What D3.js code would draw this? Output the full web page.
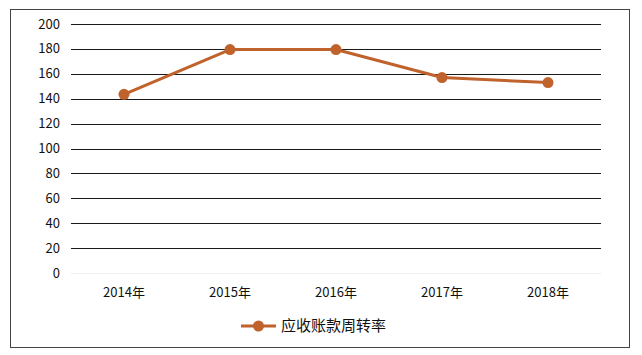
<!DOCTYPE html>
<html>
<head>
<meta charset="utf-8">
<script src="https://cdn.jsdelivr.net/npm/d3@7"></script>
<style>
  body { margin: 0; background: #fff; }
  text { font-family: "Noto Sans CJK SC", "Liberation Sans", sans-serif; fill: #111; }
</style>
</head>
<body>
<svg width="642" height="355"></svg>
<script>
const years = ["2014年", "2015年", "2016年", "2017年", "2018年"];
const values = [143.5, 179.5, 179.5, 157, 153];
const yTicks = [0, 20, 40, 60, 80, 100, 120, 140, 160, 180, 200];
const seriesName = "应收账款周转率";

const color = "#C0622B";
const svg = d3.select("svg");

// outer frame
svg.append("rect")
  .attr("x", 10.5).attr("y", 9.5)
  .attr("width", 619).attr("height", 338)
  .attr("fill", "none").attr("stroke", "#444").attr("stroke-width", 1);

const plotL = 71, plotR = 601, plotT = 24, plotB = 273;

const x = d3.scaleBand().domain(years).range([plotL, plotR]);
const y = d3.scaleLinear().domain([0, 200]).range([plotB, plotT]);

// gridlines
svg.selectAll(".grid")
  .data(yTicks)
  .enter().append("line")
  .attr("x1", plotL).attr("x2", plotR)
  .attr("y1", d => Math.round(y(d)) + 0.5)
  .attr("y2", d => Math.round(y(d)) + 0.5)
  .attr("stroke", d => d === 0 ? "#eeeeee" : "#1a1a1a")
  .attr("stroke-width", 1.2);

// y labels
svg.selectAll(".ylab")
  .data(yTicks)
  .enter().append("text")
  .attr("x", 60)
  .attr("y", d => y(d))
  .attr("dy", "0.35em")
  .attr("text-anchor", "end")
  .style("font-size", "13px")
  .text(d => d);

// x labels
svg.selectAll(".xlab")
  .data(years)
  .enter().append("text")
  .attr("x", d => x(d) + x.bandwidth() / 2)
  .attr("y", 292)
  .attr("dy", "0.35em")
  .attr("text-anchor", "middle")
  .style("font-size", "13px")
  .text(d => d);

const pts = years.map((d, i) => [x(d) + x.bandwidth() / 2, y(values[i])]);

svg.append("path")
  .attr("d", d3.line()(pts))
  .attr("fill", "none")
  .attr("stroke", color)
  .attr("stroke-width", 3)
  .attr("stroke-linejoin", "round");

svg.selectAll(".dot")
  .data(pts)
  .enter().append("circle")
  .attr("cx", d => d[0]).attr("cy", d => d[1])
  .attr("r", 5.5)
  .attr("fill", color);

// legend
const lg = svg.append("g").attr("transform", "translate(0,326)");
lg.append("line")
  .attr("x1", 241).attr("x2", 276)
  .attr("stroke", color).attr("stroke-width", 3);
lg.append("circle").attr("cx", 258.5).attr("r", 5.5).attr("fill", color);
lg.append("text")
  .attr("x", 281).attr("dy", "0.35em")
  .style("font-size", "15px")
  .text(seriesName);
</script>
</body>
</html>
